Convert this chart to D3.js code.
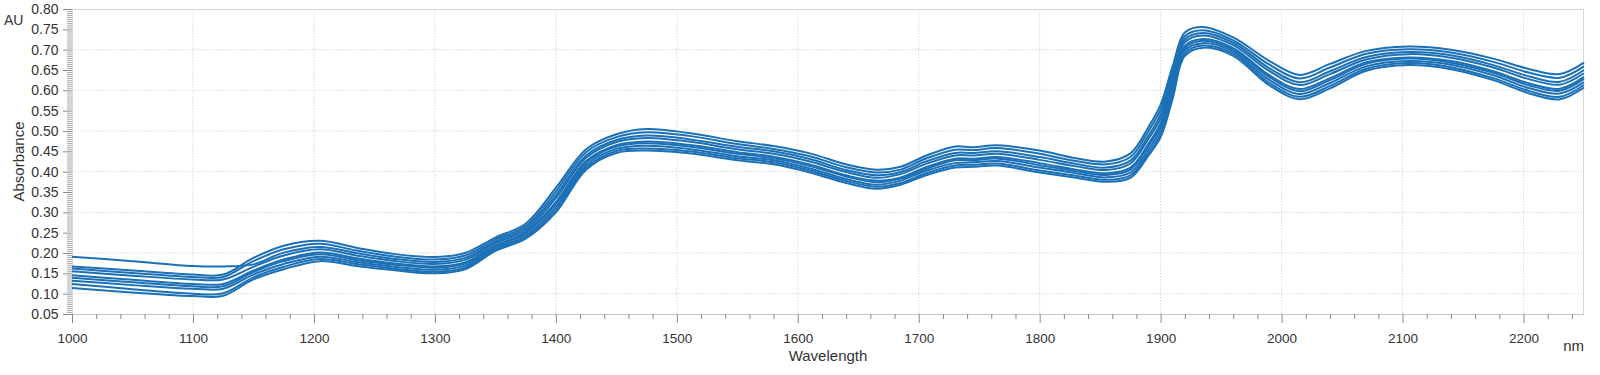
<!DOCTYPE html>
<html>
<head>
<meta charset="utf-8">
<script src="https://cdn.jsdelivr.net/npm/d3@7"></script>
<style>
  html, body { margin: 0; padding: 0; background: #fff; }
  svg { display: block; }
  text { font-family: "Liberation Sans", Arial, sans-serif; fill: #333; }
</style>
</head>
<body>
<svg id="chart" width="1600" height="375"></svg>
<script>
// ---- data ----
const wavelengths = [1000,1050,1100,1125,1150,1175,1205,1235,1265,1300,1325,1350,1375,1400,1425,1450,1475,1510,1550,1580,1610,1640,1665,1685,1705,1730,1745,1765,1800,1830,1855,1875,1890,1900,1910,1920,1935,1960,1990,2015,2040,2070,2105,2140,2175,2205,2230,2250];

const spectrum1 = [.191,.180,.168,.167,.172,.201,.215,.200,.186,.178,.188,.228,.261,.342,.440,.478,.489,.480,.461,.450,.431,.404,.391,.399,.424,.446,.446,.450,.436,.419,.410,.427,.489,.541,.636,.725,.741,.717,.654,.620,.647,.682,.694,.686,.662,.634,.621,.650];
const spectrum2 = [.167,.157,.147,.147,.188,.218,.230,.213,.198,.190,.200,.238,.272,.360,.455,.492,.505,.495,.475,.463,.445,.418,.405,.412,.438,.462,.460,.465,.452,.433,.425,.445,.510,.565,.660,.742,.756,.730,.672,.638,.665,.697,.708,.700,.678,.652,.640,.668];
const spectrum3 = [.162,.151,.141,.141,.180,.209,.223,.206,.192,.184,.194,.233,.266,.351,.448,.485,.497,.488,.468,.456,.438,.411,.398,.405,.431,.454,.453,.458,.444,.426,.418,.436,.500,.553,.648,.733,.748,.723,.663,.629,.656,.690,.701,.693,.670,.643,.631,.659];
const spectrum4 = [.155,.144,.135,.135,.166,.194,.209,.194,.181,.173,.183,.224,.256,.335,.434,.473,.483,.474,.455,.444,.425,.399,.385,.394,.418,.440,.440,.444,.429,.413,.404,.420,.481,.531,.626,.718,.735,.711,.647,.613,.640,.676,.689,.680,.656,.627,.614,.642];
const spectrum5 = [.145,.134,.124,.124,.157,.184,.201,.187,.175,.167,.177,.219,.251,.325,.426,.465,.474,.466,.448,.437,.418,.391,.378,.386,.410,.432,.432,.436,.421,.405,.396,.410,.469,.519,.614,.709,.726,.704,.637,.603,.630,.669,.681,.672,.647,.617,.604,.633];
const spectrum6 = [.139,.128,.118,.118,.153,.180,.197,.183,.172,.164,.174,.216,.248,.320,.422,.462,.470,.462,.444,.433,.414,.388,.374,.383,.406,.428,.428,.432,.416,.401,.392,.405,.464,.512,.607,.704,.722,.700,.632,.598,.625,.665,.678,.668,.643,.612,.599,.628];
const spectrum7 = [.132,.121,.112,.112,.147,.173,.191,.178,.167,.159,.169,.212,.243,.313,.416,.456,.464,.456,.438,.428,.408,.382,.368,.378,.401,.421,.423,.426,.410,.396,.386,.398,.455,.503,.598,.698,.716,.695,.625,.591,.618,.659,.672,.663,.637,.605,.592,.620];
const spectrum8 = [.124,.111,.100,.101,.140,.166,.185,.173,.162,.154,.164,.208,.239,.306,.410,.451,.457,.450,.433,.423,.403,.377,.363,.372,.395,.415,.417,.420,.403,.390,.380,.391,.447,.493,.588,.691,.710,.690,.618,.584,.611,.653,.667,.657,.630,.598,.584,.613];
const spectrum9 = [.114,.103,.094,.095,.135,.160,.180,.168,.158,.150,.160,.205,.235,.300,.405,.446,.452,.445,.428,.418,.398,.372,.358,.368,.390,.410,.412,.415,.398,.385,.375,.385,.440,.485,.580,.685,.705,.685,.612,.578,.605,.648,.662,.652,.625,.592,.578,.607];

const xTickLabels = [1000,1100,1200,1300,1400,1500,1600,1700,1800,1900,2000,2100,2200];
const yTickLabels = [0.05,0.10,0.15,0.20,0.25,0.30,0.35,0.40,0.45,0.50,0.55,0.60,0.65,0.70,0.75,0.80];
const yGridValues = [0.10,0.20,0.30,0.40,0.50,0.60,0.70];

const allSpectra = [spectrum1,spectrum2,spectrum3,spectrum4,spectrum5,spectrum6,spectrum7,spectrum8,spectrum9];

// ---- layout ----
const W = 1600, H = 375;
const margin = {left: 72, right: 16, top: 9, bottom: 61};
const x = d3.scaleLinear().domain([1000, 2250]).range([margin.left, W - margin.right]);
const y = d3.scaleLinear().domain([0.05, 0.80]).range([H - margin.bottom, margin.top]);

const svg = d3.select("#chart");

// grid
const grid = svg.append("g");
grid.selectAll("line.vg").data(xTickLabels.filter(d => d > 1000)).join("line")
  .attr("x1", d => x(d)).attr("x2", d => x(d))
  .attr("y1", y(0.80)).attr("y2", y(0.05))
  .attr("stroke", "#d9d9d9").attr("stroke-width", 1).attr("stroke-dasharray", "1.5,1.5");
grid.selectAll("line.hg").data(yGridValues).join("line")
  .attr("x1", x(1000)).attr("x2", x(2250))
  .attr("y1", d => y(d)).attr("y2", d => y(d))
  .attr("stroke", "#d9d9d9").attr("stroke-width", 1).attr("stroke-dasharray", "1.5,1.5");

// borders
svg.append("line").attr("x1", x(1000)).attr("x2", x(2250)).attr("y1", y(0.80)+0.5).attr("y2", y(0.80)+0.5).attr("stroke", "#d6d6d6");
svg.append("line").attr("x1", x(2250)-0.5).attr("x2", x(2250)-0.5).attr("y1", y(0.80)).attr("y2", y(0.05)).attr("stroke", "#d6d6d6");
svg.append("line").attr("x1", x(1000)+0.5).attr("x2", x(1000)+0.5).attr("y1", y(0.80)).attr("y2", y(0.05)).attr("stroke", "#d6d6d6");
svg.append("line").attr("x1", x(1000)).attr("x2", x(2250)).attr("y1", y(0.05)+0.5).attr("y2", y(0.05)+0.5).attr("stroke", "#c8c8c8");

// x axis
const xMinor = d3.range(1020, 2250, 20).filter(d => d % 100 !== 0);
const gxMinor = svg.append("g").attr("transform", `translate(0,${y(0.05)})`)
  .call(d3.axisBottom(x).tickValues(xMinor).tickSize(5).tickFormat(""));
const gx = svg.append("g").attr("transform", `translate(0,${y(0.05)})`)
  .call(d3.axisBottom(x).tickValues(xTickLabels).tickSize(9).tickPadding(10).tickFormat(d3.format("d")));
[gx, gxMinor].forEach(g => {
  g.select(".domain").remove();
  g.selectAll(".tick line").attr("stroke", "#8a8a8a");
});
gx.selectAll(".tick text").style("font-size", "13.5px").attr("fill", "#333");

// y axis
const yMinor = d3.range(0.055, 0.8, 0.005).filter(d => Math.abs(d * 20 - Math.round(d * 20)) > 1e-6);
const gyMinor = svg.append("g").attr("transform", `translate(${x(1000)},0)`)
  .call(d3.axisLeft(y).tickValues(yMinor).tickSize(5).tickFormat(""));
const gy = svg.append("g").attr("transform", `translate(${x(1000)},0)`)
  .call(d3.axisLeft(y).tickValues(yTickLabels).tickSize(9).tickPadding(4.5).tickFormat(d3.format(".2f")));
[gy, gyMinor].forEach(g => {
  g.select(".domain").remove();
  g.selectAll(".tick line").attr("stroke", "#8a8a8a");
});
gyMinor.selectAll(".tick line").attr("stroke", "#a8a8a8");
gy.selectAll(".tick text").style("font-size", "14px").attr("fill", "#333");

// spectra
const line = d3.line()
  .x((d, i) => x(wavelengths[i]))
  .y(d => y(d))
  .curve(d3.curveCatmullRom.alpha(0.5));
svg.append("g").selectAll("path").data(allSpectra).join("path")
  .attr("d", line)
  .attr("fill", "none")
  .attr("stroke", "#1c70b6")
  .attr("stroke-width", 2)
  .attr("stroke-linejoin", "round");

// titles
svg.append("text").attr("x", (x(1000) + x(2250)) / 2).attr("y", 361)
  .attr("text-anchor", "middle").style("font-size", "15px").text("Wavelength");
svg.append("text").attr("x", x(2250)).attr("y", 351)
  .attr("text-anchor", "end").style("font-size", "15px").text("nm");
svg.append("text").attr("x", 4).attr("y", 25)
  .style("font-size", "14px").text("AU");
svg.append("text").attr("transform", `translate(24,${(y(0.80) + y(0.05)) / 2}) rotate(-90)`)
  .attr("text-anchor", "middle").style("font-size", "15px").text("Absorbance");
</script>
</body>
</html>
